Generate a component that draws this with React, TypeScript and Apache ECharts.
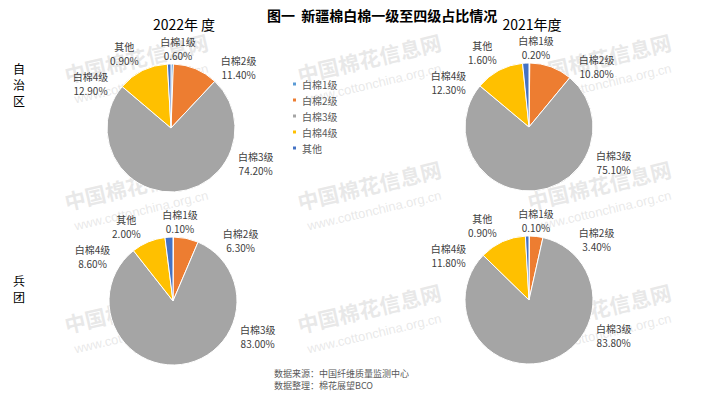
import React, { useEffect, useRef } from "react";
import * as echarts from "echarts";

const categories = ["白棉1级", "白棉2级", "白棉3级", "白棉4级", "其他"];
const xj2022 = [0.6, 11.4, 74.2, 12.9, 0.9];
const xj2021 = [0.2, 10.8, 75.1, 12.3, 1.6];
const bt2022 = [0.1, 6.3, 83.0, 8.6, 2.0];
const bt2021 = [0.1, 3.4, 83.8, 11.8, 0.9];
const yearLabels = ["2022年 度", "2021年度"];
const rowLabels = ["自\n治\n区", "兵\n团"];
const titleText = "图一  新疆棉白棉一级至四级占比情况";
const sourceLines = ["数据来源：中国纤维质量监测中心", "数据整理：棉花展望BCO"];

const COLORS = ["#5B9BD5", "#ED7D31", "#A5A5A5", "#FFC000", "#4472C4"];
const FONT = "'Noto Sans CJK SC', 'Noto Sans', sans-serif";
// Excel-like label placement (angle clockwise from 12 o'clock, distance from centre)
const LABEL_ANGLE = [5, 48, 113, 299, 328];
const LABEL_DIST = [80, 91, 92, 92, 88];
const R = 64;

function pieSeries(values: number[], cx: number, cy: number) {
  return {
    type: "pie",
    center: [cx, cy],
    radius: R,
    startAngle: 90,
    clockwise: true,
    avoidLabelOverlap: false,
    itemStyle: { borderColor: "#ffffff", borderWidth: 1 },
    label: {
      show: true,
      position: "outside",
      formatter: (p: any) => `${p.name}\n${Number(p.value).toFixed(2)}%`,
      fontSize: 10,
      lineHeight: 14,
      color: "#404040",
      fontFamily: FONT,
    },
    labelLine: { show: false },
    labelLayout: (params: any) => {
      const i = params.dataIndex;
      const a = (LABEL_ANGLE[i] * Math.PI) / 180;
      const d = LABEL_DIST[i];
      return {
        x: cx + d * Math.sin(a),
        y: cy - d * Math.cos(a),
        align: "center",
        verticalAlign: "middle",
      };
    },
    data: categories.map((name, i) => ({ name, value: values[i] })),
  };
}

function watermark(x: number, y: number) {
  return {
    type: "group",
    x,
    y,
    rotation: 0.23,
    z: 100,
    silent: true,
    children: [
      {
        type: "text",
        x: 0,
        y: 0,
        style: {
          text: "中国棉花信息网",
          fontSize: 21,
          fontWeight: "bold",
          fontFamily: FONT,
          fill: "rgba(190,190,190,0.35)",
          verticalAlign: "bottom",
        },
      },
      {
        type: "text",
        x: 4,
        y: 22,
        style: {
          text: "www.cottonchina.org.cn",
          fontSize: 13,
          fontFamily: "'Liberation Sans', Arial, sans-serif",
          fill: "rgba(190,190,190,0.35)",
          verticalAlign: "bottom",
        },
      },
    ],
  };
}

export default function App() {
  const ref = useRef<HTMLDivElement>(null);
  useEffect(() => {
    document.body.style.margin = "0";
    if (!ref.current) return;
    const chart = echarts.init(ref.current, undefined, { renderer: "svg" });
    const wmX = [67, 300, 530];
    const wmY = [85, 212, 335];
    const wms: any[] = [];
    wmY.forEach((y) => wmX.forEach((x) => wms.push(watermark(x, y))));
    chart.setOption({
      animation: false,
      backgroundColor: "#ffffff",
      color: COLORS,
      title: [
        {
          text: titleText,
          left: 262,
          top: 3,
          textStyle: { fontSize: 14, fontWeight: "bold", color: "#000", fontFamily: FONT },
        },
        {
          text: yearLabels[0],
          left: 179,
          top: 12,
          textAlign: "center",
          textStyle: { fontSize: 14, fontWeight: "normal", color: "#000", fontFamily: FONT },
        },
        {
          text: yearLabels[1],
          left: 527,
          top: 12,
          textAlign: "center",
          textStyle: { fontSize: 14, fontWeight: "normal", color: "#000", fontFamily: FONT },
        },
      ],
      legend: {
        orient: "vertical",
        left: 286,
        top: 72,
        icon: "rect",
        itemWidth: 5,
        itemHeight: 5,
        itemGap: 2,
        data: categories,
        textStyle: { fontSize: 10, color: "#595959", fontFamily: FONT, lineHeight: 14 },
      },
      graphic: [
        {
          type: "text",
          x: 19,
          y: 84,
          style: {
            text: rowLabels[0],
            fontSize: 12,
            lineHeight: 16,
            fill: "#000",
            fontFamily: FONT,
            align: "center",
            verticalAlign: "middle",
          },
        },
        {
          type: "text",
          x: 19,
          y: 288,
          style: {
            text: rowLabels[1],
            fontSize: 12,
            lineHeight: 16,
            fill: "#000",
            fontFamily: FONT,
            align: "center",
            verticalAlign: "middle",
          },
        },
        {
          type: "text",
          x: 274,
          y: 373,
          style: {
            text: sourceLines[0],
            fontSize: 9,
            fill: "#595959",
            fontFamily: FONT,
            verticalAlign: "middle",
          },
        },
        {
          type: "text",
          x: 274,
          y: 385,
          style: {
            text: sourceLines[1],
            fontSize: 9,
            fill: "#595959",
            fontFamily: FONT,
            verticalAlign: "middle",
          },
        },
        ...wms,
      ],
      series: [
        pieSeries(xj2022, 171, 128),
        pieSeries(xj2021, 529, 127),
        pieSeries(bt2022, 173, 301),
        pieSeries(bt2021, 529, 300),
      ],
    });
    return () => chart.dispose();
  }, []);
  return <div ref={ref} style={{ width: 718, height: 397 }} />;
}
